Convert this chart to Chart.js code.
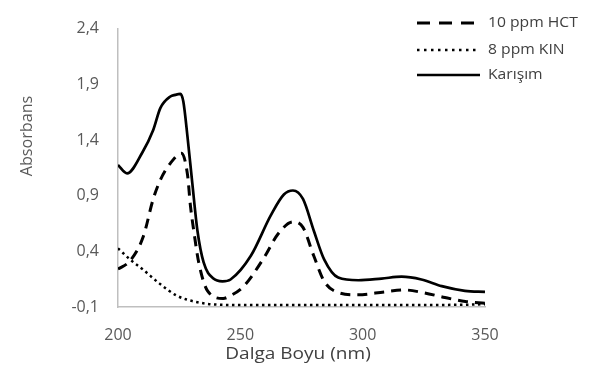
<!DOCTYPE html>
<html>
<head>
<meta charset="utf-8">
<script src="https://cdn.jsdelivr.net/npm/chart.js@4"></script>
<style>
  html, body { margin: 0; padding: 0; background: #fff; }
  #wrap { width: 598px; height: 378px; position: relative; }
</style>
</head>
<body>
<div id="wrap"><canvas id="spectrum"></canvas></div>
<script>
// Wavelengths (nm) and absorbance values for each solution
const hctNm  = [200, 205, 210.3, 214.4, 217.3, 221.4, 225.9, 228.4, 229.6, 231, 233, 236.6, 243, 246, 251.4, 259.6, 265.4, 271.5, 275.6, 280, 284.3, 290, 298, 309, 317, 325, 333.6, 342, 350];
const hctAbs = [0.24, 0.317, 0.53, 0.87, 1.04, 1.19, 1.28, 1.09, 0.81, 0.58, 0.30, 0.045, -0.023, 0.002, 0.087, 0.34, 0.555, 0.665, 0.615, 0.36, 0.13, 0.03, 0.01, 0.036, 0.053, 0.028, -0.015, -0.05, -0.066];

const kinNm  = [200, 205, 210, 217, 224, 232.5, 242, 260, 300, 340, 350];
const kinAbs = [0.427, 0.325, 0.24, 0.11, 0.002, -0.057, -0.08, -0.083, -0.083, -0.08, -0.075];

const mixNm  = [200, 203.7, 210, 214.4, 217.3, 221.4, 223.4, 225.5, 226.7, 228.4, 230.4, 232.5, 235, 239, 242.7, 246, 254.3, 262.5, 267.8, 271.5, 275.6, 280.1, 284.3, 290, 298.2, 307.7, 315.9, 324, 332.3, 341.8, 350];
const mixAbs = [1.175, 1.10, 1.29, 1.49, 1.686, 1.79, 1.805, 1.813, 1.745, 1.43, 1.005, 0.58, 0.30, 0.155, 0.13, 0.147, 0.36, 0.725, 0.91, 0.946, 0.87, 0.58, 0.325, 0.164, 0.14, 0.155, 0.172, 0.147, 0.087, 0.045, 0.036];

const seriesNames = ['10 ppm HCT', '8 ppm KIN', 'Karışım'];
const xTicks = [200, 250, 300, 350];
const yTicks = [-0.1, 0.4, 0.9, 1.4, 1.9, 2.4];
const xTitle = 'Dalga Boyu (nm)';
const yTitle = 'Absorbans';

const toPoints = (xs, ys) => xs.map((x, i) => ({ x: x, y: ys[i] }));

// draws text a little wider than the font's natural width
function wideText(ctx, text, x, y, sx) {
  ctx.save();
  ctx.translate(x, y);
  ctx.scale(sx, 1);
  ctx.fillText(text, 0, 0);
  ctx.restore();
}

// legend at the top right (runs past the plot area) plus both axis titles
const extras = {
  id: 'extras',
  afterDraw(chart) {
    const ctx = chart.ctx;
    const rows = [23, 50, 75];
    ctx.save();
    chart.data.datasets.forEach((ds, i) => {
      const y = rows[i];
      ctx.beginPath();
      ctx.strokeStyle = '#000';
      ctx.lineWidth = ds.legendWidth;
      ctx.setLineDash(ds.legendDash);
      ctx.moveTo(417, y);
      ctx.lineTo(480, y);
      ctx.stroke();
      ctx.setLineDash([]);
      ctx.fillStyle = '#404040';
      ctx.font = '14px "Open Sans", sans-serif';
      ctx.textBaseline = 'middle';
      ctx.textAlign = 'left';
      wideText(ctx, ds.label, 488, y, 1.12);
    });

    ctx.fillStyle = '#404040';
    ctx.font = '17px "Open Sans", sans-serif';
    ctx.textAlign = 'center';
    ctx.textBaseline = 'middle';
    wideText(ctx, xTitle, 298, 354, 1.12);

    ctx.fillStyle = '#595959';
    ctx.font = '17px "Open Sans", sans-serif';
    ctx.translate(27, 136);
    ctx.rotate(-Math.PI / 2);
    ctx.scale(0.95, 1);
    ctx.fillText(yTitle, 0, 0);
    ctx.restore();
  }
};

const commaNum = v => v.toFixed(1).replace('.', ',');

new Chart(document.getElementById('spectrum'), {
  type: 'line',
  data: {
    datasets: [
      {
        label: seriesNames[0],
        data: toPoints(hctNm, hctAbs),
        borderColor: '#000',
        borderWidth: 3,
        borderDash: [10, 7],
        legendDash: [13, 9],
        legendWidth: 3,
        pointRadius: 0,
        cubicInterpolationMode: 'monotone'
      },
      {
        label: seriesNames[1],
        data: toPoints(kinNm, kinAbs),
        borderColor: '#000',
        borderWidth: 2.5,
        borderDash: [2.5, 3.5],
        legendDash: [2.5, 4.5],
        legendWidth: 2.5,
        pointRadius: 0,
        cubicInterpolationMode: 'monotone'
      },
      {
        label: seriesNames[2],
        data: toPoints(mixNm, mixAbs),
        borderColor: '#000',
        borderWidth: 2.7,
        borderDash: [],
        legendDash: [],
        legendWidth: 2.7,
        pointRadius: 0,
        cubicInterpolationMode: 'monotone'
      }
    ]
  },
  options: {
    responsive: true,
    maintainAspectRatio: false,
    animation: false,
    layout: { padding: { top: 12, right: 113, left: 0, bottom: 0 } },
    plugins: {
      legend: { display: false },
      tooltip: { enabled: false }
    },
    scales: {
      x: {
        type: 'linear',
        min: 200,
        max: 350,
        afterBuildTicks: s => { s.ticks = xTicks.map(v => ({ value: v })); },
        afterFit: s => { s.height = 71; },
        grid: { display: false, drawTicks: false },
        border: { color: '#bfbfbf', width: 1.5 },
        ticks: {
          color: '#595959',
          font: { family: '"Open Sans", sans-serif', size: 16 },
          padding: 19,
          callback: v => String(v)
        }
      },
      y: {
        min: -0.1,
        max: 2.4,
        afterBuildTicks: s => { s.ticks = yTicks.map(v => ({ value: v })); },
        afterFit: s => { s.width = 118; },
        grid: { display: false, drawTicks: false },
        border: { color: '#bfbfbf', width: 1.5 },
        ticks: {
          color: '#595959',
          font: { family: '"Open Sans", sans-serif', size: 16 },
          padding: 19,
          callback: v => commaNum(v)
        }
      }
    }
  },
  plugins: [extras]
});
</script>
</body>
</html>
